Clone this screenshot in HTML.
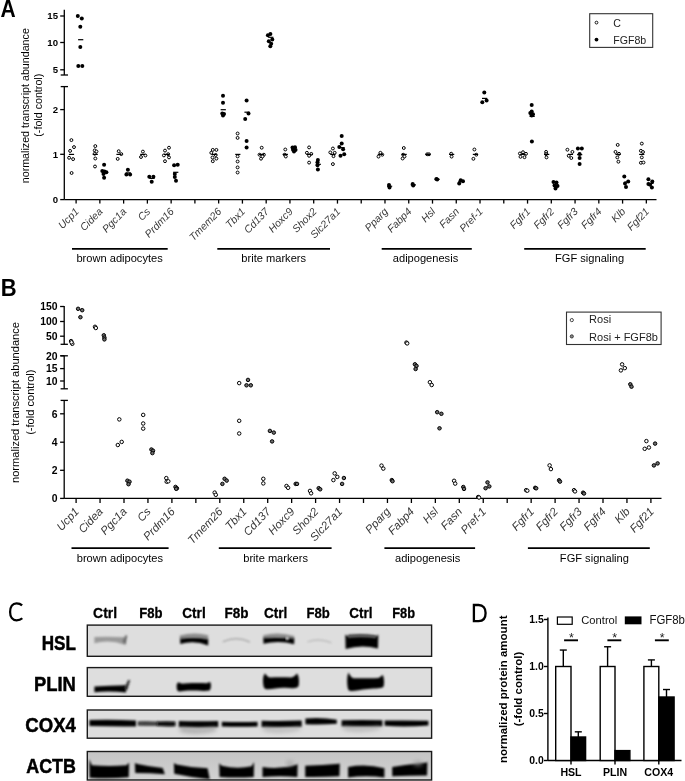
<!DOCTYPE html>
<html><head><meta charset="utf-8"><style>
html,body{margin:0;padding:0;background:#fff;width:685px;height:781px;overflow:hidden}
svg{display:block;will-change:transform;filter:blur(0.35px)}
text{font-family:"Liberation Sans", sans-serif}
</style></head><body>
<svg width="685" height="781" viewBox="0 0 685 781" font-family='"Liberation Sans", sans-serif'>
<rect width="685" height="781" fill="#fff"/>
<text x="0.40" y="16.70" font-size="23" text-anchor="start" font-weight="bold" font-style="normal" fill="#000" textLength="15.2" lengthAdjust="spacingAndGlyphs">A</text>
<text x="0.70" y="295.80" font-size="23" text-anchor="start" font-weight="bold" font-style="normal" fill="#000" textLength="15.9" lengthAdjust="spacingAndGlyphs">B</text>
<line x1="64.30" y1="9.80" x2="64.30" y2="75.00" stroke="#000" stroke-width="1.3"/>
<line x1="60.20" y1="16.00" x2="64.30" y2="16.00" stroke="#000" stroke-width="1.3"/>
<text x="58.00" y="19.46" font-size="9.6" text-anchor="end" font-weight="bold" font-style="normal" fill="#000" >15</text>
<line x1="60.20" y1="42.50" x2="64.30" y2="42.50" stroke="#000" stroke-width="1.3"/>
<text x="58.00" y="45.96" font-size="9.6" text-anchor="end" font-weight="bold" font-style="normal" fill="#000" >10</text>
<line x1="60.20" y1="69.80" x2="64.30" y2="69.80" stroke="#000" stroke-width="1.3"/>
<text x="58.00" y="73.26" font-size="9.6" text-anchor="end" font-weight="bold" font-style="normal" fill="#000" >5</text>
<line x1="60.70" y1="75.00" x2="68.00" y2="75.00" stroke="#000" stroke-width="1.3"/>
<line x1="64.30" y1="86.60" x2="64.30" y2="199.60" stroke="#000" stroke-width="1.3"/>
<line x1="60.20" y1="109.60" x2="64.30" y2="109.60" stroke="#000" stroke-width="1.3"/>
<text x="58.00" y="113.06" font-size="9.6" text-anchor="end" font-weight="bold" font-style="normal" fill="#000" >2</text>
<line x1="60.20" y1="154.30" x2="64.30" y2="154.30" stroke="#000" stroke-width="1.3"/>
<text x="58.00" y="157.76" font-size="9.6" text-anchor="end" font-weight="bold" font-style="normal" fill="#000" >1</text>
<line x1="60.20" y1="199.60" x2="64.30" y2="199.60" stroke="#000" stroke-width="1.3"/>
<text x="58.00" y="203.06" font-size="9.6" text-anchor="end" font-weight="bold" font-style="normal" fill="#000" >0</text>
<line x1="60.70" y1="86.60" x2="68.00" y2="86.60" stroke="#000" stroke-width="1.3"/>
<line x1="64.30" y1="199.60" x2="656.50" y2="199.60" stroke="#000" stroke-width="1.3"/>
<line x1="76.10" y1="199.60" x2="76.10" y2="203.60" stroke="#000" stroke-width="1.3"/>
<line x1="99.86" y1="199.60" x2="99.86" y2="203.60" stroke="#000" stroke-width="1.3"/>
<line x1="123.62" y1="199.60" x2="123.62" y2="203.60" stroke="#000" stroke-width="1.3"/>
<line x1="147.38" y1="199.60" x2="147.38" y2="203.60" stroke="#000" stroke-width="1.3"/>
<line x1="171.14" y1="199.60" x2="171.14" y2="203.60" stroke="#000" stroke-width="1.3"/>
<line x1="194.90" y1="199.60" x2="194.90" y2="203.60" stroke="#000" stroke-width="1.3"/>
<line x1="218.66" y1="199.60" x2="218.66" y2="203.60" stroke="#000" stroke-width="1.3"/>
<line x1="242.42" y1="199.60" x2="242.42" y2="203.60" stroke="#000" stroke-width="1.3"/>
<line x1="266.18" y1="199.60" x2="266.18" y2="203.60" stroke="#000" stroke-width="1.3"/>
<line x1="289.94" y1="199.60" x2="289.94" y2="203.60" stroke="#000" stroke-width="1.3"/>
<line x1="313.70" y1="199.60" x2="313.70" y2="203.60" stroke="#000" stroke-width="1.3"/>
<line x1="337.46" y1="199.60" x2="337.46" y2="203.60" stroke="#000" stroke-width="1.3"/>
<line x1="361.22" y1="199.60" x2="361.22" y2="203.60" stroke="#000" stroke-width="1.3"/>
<line x1="384.98" y1="199.60" x2="384.98" y2="203.60" stroke="#000" stroke-width="1.3"/>
<line x1="408.74" y1="199.60" x2="408.74" y2="203.60" stroke="#000" stroke-width="1.3"/>
<line x1="432.50" y1="199.60" x2="432.50" y2="203.60" stroke="#000" stroke-width="1.3"/>
<line x1="456.26" y1="199.60" x2="456.26" y2="203.60" stroke="#000" stroke-width="1.3"/>
<line x1="480.02" y1="199.60" x2="480.02" y2="203.60" stroke="#000" stroke-width="1.3"/>
<line x1="503.78" y1="199.60" x2="503.78" y2="203.60" stroke="#000" stroke-width="1.3"/>
<line x1="527.54" y1="199.60" x2="527.54" y2="203.60" stroke="#000" stroke-width="1.3"/>
<line x1="551.30" y1="199.60" x2="551.30" y2="203.60" stroke="#000" stroke-width="1.3"/>
<line x1="575.06" y1="199.60" x2="575.06" y2="203.60" stroke="#000" stroke-width="1.3"/>
<line x1="598.82" y1="199.60" x2="598.82" y2="203.60" stroke="#000" stroke-width="1.3"/>
<line x1="622.58" y1="199.60" x2="622.58" y2="203.60" stroke="#000" stroke-width="1.3"/>
<line x1="646.34" y1="199.60" x2="646.34" y2="203.60" stroke="#000" stroke-width="1.3"/>
<text x="79.60" y="212.20" font-size="10.4" text-anchor="end" font-style="italic" fill="#383838" transform="rotate(-45.5 79.60 212.20)">Ucp1</text>
<text x="103.36" y="212.20" font-size="10.4" text-anchor="end" font-style="italic" fill="#383838" transform="rotate(-45.5 103.36 212.20)">Cidea</text>
<text x="127.12" y="212.20" font-size="10.4" text-anchor="end" font-style="italic" fill="#383838" transform="rotate(-45.5 127.12 212.20)">Pgc1a</text>
<text x="150.88" y="212.20" font-size="10.4" text-anchor="end" font-style="italic" fill="#383838" transform="rotate(-45.5 150.88 212.20)">Cs</text>
<text x="174.64" y="212.20" font-size="10.4" text-anchor="end" font-style="italic" fill="#383838" transform="rotate(-45.5 174.64 212.20)">Prdm16</text>
<text x="222.16" y="212.20" font-size="10.4" text-anchor="end" font-style="italic" fill="#383838" transform="rotate(-45.5 222.16 212.20)">Tmem26</text>
<text x="245.92" y="212.20" font-size="10.4" text-anchor="end" font-style="italic" fill="#383838" transform="rotate(-45.5 245.92 212.20)">Tbx1</text>
<text x="269.68" y="212.20" font-size="10.4" text-anchor="end" font-style="italic" fill="#383838" transform="rotate(-45.5 269.68 212.20)">Cd137</text>
<text x="293.44" y="212.20" font-size="10.4" text-anchor="end" font-style="italic" fill="#383838" transform="rotate(-45.5 293.44 212.20)">Hoxc9</text>
<text x="317.20" y="212.20" font-size="10.4" text-anchor="end" font-style="italic" fill="#383838" transform="rotate(-45.5 317.20 212.20)">Shox2</text>
<text x="340.96" y="212.20" font-size="10.4" text-anchor="end" font-style="italic" fill="#383838" transform="rotate(-45.5 340.96 212.20)">Slc27a1</text>
<text x="388.48" y="212.20" font-size="10.4" text-anchor="end" font-style="italic" fill="#383838" transform="rotate(-45.5 388.48 212.20)">Pparg</text>
<text x="412.24" y="212.20" font-size="10.4" text-anchor="end" font-style="italic" fill="#383838" transform="rotate(-45.5 412.24 212.20)">Fabp4</text>
<text x="436.00" y="212.20" font-size="10.4" text-anchor="end" font-style="italic" fill="#383838" transform="rotate(-45.5 436.00 212.20)">Hsl</text>
<text x="459.76" y="212.20" font-size="10.4" text-anchor="end" font-style="italic" fill="#383838" transform="rotate(-45.5 459.76 212.20)">Fasn</text>
<text x="483.52" y="212.20" font-size="10.4" text-anchor="end" font-style="italic" fill="#383838" transform="rotate(-45.5 483.52 212.20)">Pref-1</text>
<text x="531.04" y="212.20" font-size="10.4" text-anchor="end" font-style="italic" fill="#383838" transform="rotate(-45.5 531.04 212.20)">Fgfr1</text>
<text x="554.80" y="212.20" font-size="10.4" text-anchor="end" font-style="italic" fill="#383838" transform="rotate(-45.5 554.80 212.20)">Fgfr2</text>
<text x="578.56" y="212.20" font-size="10.4" text-anchor="end" font-style="italic" fill="#383838" transform="rotate(-45.5 578.56 212.20)">Fgfr3</text>
<text x="602.32" y="212.20" font-size="10.4" text-anchor="end" font-style="italic" fill="#383838" transform="rotate(-45.5 602.32 212.20)">Fgfr4</text>
<text x="626.08" y="212.20" font-size="10.4" text-anchor="end" font-style="italic" fill="#383838" transform="rotate(-45.5 626.08 212.20)">Klb</text>
<text x="649.84" y="212.20" font-size="10.4" text-anchor="end" font-style="italic" fill="#383838" transform="rotate(-45.5 649.84 212.20)">Fgf21</text>
<text x="0" y="0" font-size="10.7" text-anchor="middle" transform="translate(29.4 105.7) rotate(-90)">normalized transcript abundance</text>
<text x="0" y="0" font-size="10.7" text-anchor="middle" transform="translate(42.4 105.2) rotate(-90)">(-fold control)</text>
<line x1="72.00" y1="248.90" x2="167.70" y2="248.90" stroke="#000" stroke-width="1.6"/>
<text x="119.60" y="262.00" font-size="11.1" text-anchor="middle" font-weight="normal" font-style="normal" fill="#000" >brown adipocytes</text>
<line x1="217.30" y1="248.90" x2="330.00" y2="248.90" stroke="#000" stroke-width="1.6"/>
<text x="273.70" y="262.00" font-size="11.1" text-anchor="middle" font-weight="normal" font-style="normal" fill="#000" >brite markers</text>
<line x1="381.70" y1="248.90" x2="471.80" y2="248.90" stroke="#000" stroke-width="1.6"/>
<text x="425.50" y="262.00" font-size="11.1" text-anchor="middle" font-weight="normal" font-style="normal" fill="#000" >adipogenesis</text>
<line x1="524.20" y1="248.90" x2="645.70" y2="248.90" stroke="#000" stroke-width="1.6"/>
<text x="589.60" y="262.00" font-size="11.1" text-anchor="middle" font-weight="normal" font-style="normal" fill="#000" >FGF signaling</text>
<rect x="589.7" y="13.7" width="63" height="33.7" fill="none" stroke="#333" stroke-width="1.1"/>
<circle cx="596.5" cy="22.6" r="1.4" fill="#fff" stroke="#000" stroke-width="0.9"/>
<circle cx="596.5" cy="39.6" r="1.9" fill="#000"/>
<text x="613.30" y="26.60" font-size="10.6" text-anchor="start" font-weight="normal" font-style="normal" fill="#222" >C</text>
<text x="613.30" y="43.80" font-size="10.6" text-anchor="start" font-weight="normal" font-style="normal" fill="#222" >FGF8b</text>
<circle cx="71.4" cy="140.1" r="1.45" fill="#fff" stroke="#000" stroke-width="1.0"/>
<circle cx="74.0" cy="147.1" r="1.45" fill="#fff" stroke="#000" stroke-width="1.0"/>
<circle cx="70.1" cy="150.9" r="1.45" fill="#fff" stroke="#000" stroke-width="1.0"/>
<circle cx="69.1" cy="157.8" r="1.45" fill="#fff" stroke="#000" stroke-width="1.0"/>
<circle cx="73.1" cy="159.1" r="1.45" fill="#fff" stroke="#000" stroke-width="1.0"/>
<circle cx="71.6" cy="173.0" r="1.45" fill="#fff" stroke="#000" stroke-width="1.0"/>
<circle cx="95.3" cy="146.1" r="1.45" fill="#fff" stroke="#000" stroke-width="1.0"/>
<circle cx="94.7" cy="150.4" r="1.45" fill="#fff" stroke="#000" stroke-width="1.0"/>
<circle cx="96.5" cy="151.5" r="1.45" fill="#fff" stroke="#000" stroke-width="1.0"/>
<circle cx="94.7" cy="153.8" r="1.45" fill="#fff" stroke="#000" stroke-width="1.0"/>
<circle cx="95.3" cy="158.5" r="1.45" fill="#fff" stroke="#000" stroke-width="1.0"/>
<circle cx="95.0" cy="166.5" r="1.45" fill="#fff" stroke="#000" stroke-width="1.0"/>
<circle cx="118.7" cy="151.2" r="1.45" fill="#fff" stroke="#000" stroke-width="1.0"/>
<circle cx="121.3" cy="154.1" r="1.45" fill="#fff" stroke="#000" stroke-width="1.0"/>
<circle cx="117.7" cy="158.9" r="1.45" fill="#fff" stroke="#000" stroke-width="1.0"/>
<circle cx="142.9" cy="151.6" r="1.45" fill="#fff" stroke="#000" stroke-width="1.0"/>
<circle cx="141.0" cy="157.0" r="1.45" fill="#fff" stroke="#000" stroke-width="1.0"/>
<circle cx="145.4" cy="155.5" r="1.45" fill="#fff" stroke="#000" stroke-width="1.0"/>
<circle cx="169.0" cy="147.7" r="1.45" fill="#fff" stroke="#000" stroke-width="1.0"/>
<circle cx="165.0" cy="150.6" r="1.45" fill="#fff" stroke="#000" stroke-width="1.0"/>
<circle cx="168.2" cy="154.2" r="1.45" fill="#fff" stroke="#000" stroke-width="1.0"/>
<circle cx="163.9" cy="155.4" r="1.45" fill="#fff" stroke="#000" stroke-width="1.0"/>
<circle cx="169.0" cy="157.4" r="1.45" fill="#fff" stroke="#000" stroke-width="1.0"/>
<circle cx="165.0" cy="161.2" r="1.45" fill="#fff" stroke="#000" stroke-width="1.0"/>
<circle cx="212.8" cy="149.9" r="1.45" fill="#fff" stroke="#000" stroke-width="1.0"/>
<circle cx="216.4" cy="149.9" r="1.45" fill="#fff" stroke="#000" stroke-width="1.0"/>
<circle cx="211.3" cy="152.8" r="1.45" fill="#fff" stroke="#000" stroke-width="1.0"/>
<circle cx="215.7" cy="155.0" r="1.45" fill="#fff" stroke="#000" stroke-width="1.0"/>
<circle cx="212.5" cy="157.5" r="1.45" fill="#fff" stroke="#000" stroke-width="1.0"/>
<circle cx="216.4" cy="158.6" r="1.45" fill="#fff" stroke="#000" stroke-width="1.0"/>
<circle cx="212.8" cy="161.2" r="1.45" fill="#fff" stroke="#000" stroke-width="1.0"/>
<circle cx="237.6" cy="133.5" r="1.45" fill="#fff" stroke="#000" stroke-width="1.0"/>
<circle cx="237.6" cy="137.9" r="1.45" fill="#fff" stroke="#000" stroke-width="1.0"/>
<circle cx="237.6" cy="156.4" r="1.45" fill="#fff" stroke="#000" stroke-width="1.0"/>
<circle cx="237.6" cy="161.5" r="1.45" fill="#fff" stroke="#000" stroke-width="1.0"/>
<circle cx="237.6" cy="167.4" r="1.45" fill="#fff" stroke="#000" stroke-width="1.0"/>
<circle cx="237.6" cy="172.5" r="1.45" fill="#fff" stroke="#000" stroke-width="1.0"/>
<circle cx="261.7" cy="147.7" r="1.45" fill="#fff" stroke="#000" stroke-width="1.0"/>
<circle cx="259.5" cy="154.7" r="1.45" fill="#fff" stroke="#000" stroke-width="1.0"/>
<circle cx="263.9" cy="154.7" r="1.45" fill="#fff" stroke="#000" stroke-width="1.0"/>
<circle cx="261.0" cy="158.7" r="1.45" fill="#fff" stroke="#000" stroke-width="1.0"/>
<circle cx="262.5" cy="156.5" r="1.45" fill="#fff" stroke="#000" stroke-width="1.0"/>
<circle cx="285.3" cy="149.5" r="1.45" fill="#fff" stroke="#000" stroke-width="1.0"/>
<circle cx="284.7" cy="154.7" r="1.45" fill="#fff" stroke="#000" stroke-width="1.0"/>
<circle cx="285.8" cy="156.5" r="1.45" fill="#fff" stroke="#000" stroke-width="1.0"/>
<circle cx="309.1" cy="147.4" r="1.45" fill="#fff" stroke="#000" stroke-width="1.0"/>
<circle cx="306.9" cy="152.8" r="1.45" fill="#fff" stroke="#000" stroke-width="1.0"/>
<circle cx="311.3" cy="153.9" r="1.45" fill="#fff" stroke="#000" stroke-width="1.0"/>
<circle cx="309.1" cy="155.8" r="1.45" fill="#fff" stroke="#000" stroke-width="1.0"/>
<circle cx="309.1" cy="162.6" r="1.45" fill="#fff" stroke="#000" stroke-width="1.0"/>
<circle cx="332.9" cy="148.5" r="1.45" fill="#fff" stroke="#000" stroke-width="1.0"/>
<circle cx="330.3" cy="152.4" r="1.45" fill="#fff" stroke="#000" stroke-width="1.0"/>
<circle cx="334.7" cy="152.8" r="1.45" fill="#fff" stroke="#000" stroke-width="1.0"/>
<circle cx="333.5" cy="156.2" r="1.45" fill="#fff" stroke="#000" stroke-width="1.0"/>
<circle cx="332.9" cy="164.1" r="1.45" fill="#fff" stroke="#000" stroke-width="1.0"/>
<circle cx="380.4" cy="152.8" r="1.45" fill="#fff" stroke="#000" stroke-width="1.0"/>
<circle cx="378.5" cy="156.6" r="1.45" fill="#fff" stroke="#000" stroke-width="1.0"/>
<circle cx="382.3" cy="154.7" r="1.45" fill="#fff" stroke="#000" stroke-width="1.0"/>
<circle cx="403.8" cy="148.0" r="1.45" fill="#fff" stroke="#000" stroke-width="1.0"/>
<circle cx="403.2" cy="154.7" r="1.45" fill="#fff" stroke="#000" stroke-width="1.0"/>
<circle cx="404.5" cy="156.5" r="1.45" fill="#fff" stroke="#000" stroke-width="1.0"/>
<circle cx="402.6" cy="158.5" r="1.45" fill="#fff" stroke="#000" stroke-width="1.0"/>
<circle cx="427.2" cy="154.3" r="1.45" fill="#fff" stroke="#000" stroke-width="1.0"/>
<circle cx="429.0" cy="154.3" r="1.45" fill="#fff" stroke="#000" stroke-width="1.0"/>
<circle cx="451.2" cy="153.7" r="1.45" fill="#fff" stroke="#000" stroke-width="1.0"/>
<circle cx="451.6" cy="156.6" r="1.45" fill="#fff" stroke="#000" stroke-width="1.0"/>
<circle cx="474.4" cy="149.5" r="1.45" fill="#fff" stroke="#000" stroke-width="1.0"/>
<circle cx="476.3" cy="154.7" r="1.45" fill="#fff" stroke="#000" stroke-width="1.0"/>
<circle cx="473.4" cy="158.8" r="1.45" fill="#fff" stroke="#000" stroke-width="1.0"/>
<circle cx="519.9" cy="153.5" r="1.45" fill="#fff" stroke="#000" stroke-width="1.0"/>
<circle cx="523.0" cy="152.2" r="1.45" fill="#fff" stroke="#000" stroke-width="1.0"/>
<circle cx="526.0" cy="153.8" r="1.45" fill="#fff" stroke="#000" stroke-width="1.0"/>
<circle cx="520.5" cy="156.8" r="1.45" fill="#fff" stroke="#000" stroke-width="1.0"/>
<circle cx="524.5" cy="157.2" r="1.45" fill="#fff" stroke="#000" stroke-width="1.0"/>
<circle cx="546.1" cy="151.9" r="1.45" fill="#fff" stroke="#000" stroke-width="1.0"/>
<circle cx="546.1" cy="154.1" r="1.45" fill="#fff" stroke="#000" stroke-width="1.0"/>
<circle cx="546.5" cy="157.4" r="1.45" fill="#fff" stroke="#000" stroke-width="1.0"/>
<circle cx="567.4" cy="149.7" r="1.45" fill="#fff" stroke="#000" stroke-width="1.0"/>
<circle cx="572.4" cy="151.9" r="1.45" fill="#fff" stroke="#000" stroke-width="1.0"/>
<circle cx="568.7" cy="155.8" r="1.45" fill="#fff" stroke="#000" stroke-width="1.0"/>
<circle cx="571.3" cy="158.0" r="1.45" fill="#fff" stroke="#000" stroke-width="1.0"/>
<circle cx="617.7" cy="144.9" r="1.45" fill="#fff" stroke="#000" stroke-width="1.0"/>
<circle cx="615.5" cy="151.9" r="1.45" fill="#fff" stroke="#000" stroke-width="1.0"/>
<circle cx="619.0" cy="153.8" r="1.45" fill="#fff" stroke="#000" stroke-width="1.0"/>
<circle cx="617.3" cy="157.4" r="1.45" fill="#fff" stroke="#000" stroke-width="1.0"/>
<circle cx="618.4" cy="161.7" r="1.45" fill="#fff" stroke="#000" stroke-width="1.0"/>
<circle cx="641.8" cy="143.6" r="1.45" fill="#fff" stroke="#000" stroke-width="1.0"/>
<circle cx="640.9" cy="150.8" r="1.45" fill="#fff" stroke="#000" stroke-width="1.0"/>
<circle cx="643.0" cy="152.0" r="1.45" fill="#fff" stroke="#000" stroke-width="1.0"/>
<circle cx="641.8" cy="157.4" r="1.45" fill="#fff" stroke="#000" stroke-width="1.0"/>
<circle cx="640.9" cy="162.8" r="1.45" fill="#fff" stroke="#000" stroke-width="1.0"/>
<circle cx="643.5" cy="162.5" r="1.45" fill="#fff" stroke="#000" stroke-width="1.0"/>
<circle cx="77.8" cy="16.1" r="2.0" fill="#000"/>
<circle cx="81.8" cy="18.6" r="2.0" fill="#000"/>
<circle cx="80.3" cy="26.8" r="2.0" fill="#000"/>
<circle cx="80.3" cy="47.1" r="2.0" fill="#000"/>
<circle cx="78.3" cy="66.0" r="2.0" fill="#000"/>
<circle cx="82.3" cy="66.0" r="2.0" fill="#000"/>
<circle cx="104.1" cy="164.7" r="2.0" fill="#000"/>
<circle cx="102.3" cy="170.9" r="2.0" fill="#000"/>
<circle cx="104.5" cy="171.6" r="2.0" fill="#000"/>
<circle cx="106.4" cy="172.3" r="2.0" fill="#000"/>
<circle cx="103.5" cy="174.0" r="2.0" fill="#000"/>
<circle cx="104.1" cy="177.7" r="2.0" fill="#000"/>
<circle cx="127.9" cy="169.7" r="2.0" fill="#000"/>
<circle cx="126.4" cy="174.5" r="2.0" fill="#000"/>
<circle cx="130.1" cy="174.5" r="2.0" fill="#000"/>
<circle cx="149.3" cy="176.7" r="2.0" fill="#000"/>
<circle cx="153.4" cy="176.7" r="2.0" fill="#000"/>
<circle cx="151.7" cy="181.8" r="2.0" fill="#000"/>
<circle cx="174.1" cy="165.2" r="2.0" fill="#000"/>
<circle cx="177.7" cy="164.7" r="2.0" fill="#000"/>
<circle cx="174.8" cy="173.9" r="2.0" fill="#000"/>
<circle cx="174.8" cy="176.9" r="2.0" fill="#000"/>
<circle cx="176.0" cy="180.8" r="2.0" fill="#000"/>
<circle cx="223.0" cy="95.8" r="2.0" fill="#000"/>
<circle cx="223.0" cy="102.8" r="2.0" fill="#000"/>
<circle cx="222.3" cy="113.4" r="2.0" fill="#000"/>
<circle cx="223.0" cy="115.5" r="2.0" fill="#000"/>
<circle cx="224.0" cy="114.0" r="2.0" fill="#000"/>
<circle cx="246.6" cy="100.5" r="2.0" fill="#000"/>
<circle cx="248.5" cy="113.4" r="2.0" fill="#000"/>
<circle cx="245.2" cy="118.9" r="2.0" fill="#000"/>
<circle cx="246.6" cy="141.1" r="2.0" fill="#000"/>
<circle cx="246.6" cy="147.4" r="2.0" fill="#000"/>
<circle cx="270.4" cy="33.9" r="2.0" fill="#000"/>
<circle cx="267.9" cy="35.3" r="2.0" fill="#000"/>
<circle cx="272.3" cy="39.6" r="2.0" fill="#000"/>
<circle cx="268.8" cy="41.2" r="2.0" fill="#000"/>
<circle cx="271.2" cy="43.7" r="2.0" fill="#000"/>
<circle cx="270.3" cy="46.3" r="2.0" fill="#000"/>
<circle cx="292.5" cy="147.5" r="2.0" fill="#000"/>
<circle cx="295.0" cy="147.2" r="2.0" fill="#000"/>
<circle cx="293.0" cy="149.8" r="2.0" fill="#000"/>
<circle cx="295.5" cy="150.0" r="2.0" fill="#000"/>
<circle cx="294.0" cy="151.4" r="2.0" fill="#000"/>
<circle cx="317.9" cy="160.1" r="2.0" fill="#000"/>
<circle cx="317.5" cy="162.3" r="2.0" fill="#000"/>
<circle cx="317.5" cy="165.3" r="2.0" fill="#000"/>
<circle cx="317.9" cy="169.6" r="2.0" fill="#000"/>
<circle cx="341.7" cy="136.1" r="2.0" fill="#000"/>
<circle cx="341.7" cy="143.4" r="2.0" fill="#000"/>
<circle cx="339.3" cy="147.0" r="2.0" fill="#000"/>
<circle cx="343.1" cy="149.2" r="2.0" fill="#000"/>
<circle cx="344.2" cy="154.3" r="2.0" fill="#000"/>
<circle cx="340.5" cy="155.8" r="2.0" fill="#000"/>
<circle cx="389.0" cy="185.0" r="2.0" fill="#000"/>
<circle cx="389.5" cy="187.5" r="2.0" fill="#000"/>
<circle cx="412.7" cy="184.1" r="2.0" fill="#000"/>
<circle cx="413.2" cy="185.6" r="2.0" fill="#000"/>
<circle cx="436.4" cy="179.0" r="2.0" fill="#000"/>
<circle cx="437.2" cy="179.6" r="2.0" fill="#000"/>
<circle cx="460.7" cy="180.3" r="2.0" fill="#000"/>
<circle cx="459.2" cy="183.5" r="2.0" fill="#000"/>
<circle cx="463.0" cy="181.2" r="2.0" fill="#000"/>
<circle cx="484.3" cy="92.6" r="2.0" fill="#000"/>
<circle cx="486.6" cy="100.4" r="2.0" fill="#000"/>
<circle cx="482.3" cy="102.2" r="2.0" fill="#000"/>
<circle cx="531.7" cy="105.1" r="2.0" fill="#000"/>
<circle cx="531.7" cy="111.5" r="2.0" fill="#000"/>
<circle cx="531.5" cy="113.9" r="2.0" fill="#000"/>
<circle cx="531.7" cy="115.6" r="2.0" fill="#000"/>
<circle cx="530.3" cy="113.0" r="2.0" fill="#000"/>
<circle cx="533.0" cy="114.2" r="2.0" fill="#000"/>
<circle cx="531.9" cy="141.4" r="2.0" fill="#000"/>
<circle cx="553.5" cy="182.0" r="2.0" fill="#000"/>
<circle cx="556.5" cy="182.5" r="2.0" fill="#000"/>
<circle cx="554.5" cy="185.5" r="2.0" fill="#000"/>
<circle cx="557.5" cy="186.0" r="2.0" fill="#000"/>
<circle cx="555.5" cy="188.6" r="2.0" fill="#000"/>
<circle cx="577.9" cy="148.6" r="2.0" fill="#000"/>
<circle cx="581.8" cy="148.6" r="2.0" fill="#000"/>
<circle cx="579.6" cy="154.1" r="2.0" fill="#000"/>
<circle cx="579.6" cy="158.0" r="2.0" fill="#000"/>
<circle cx="579.6" cy="163.9" r="2.0" fill="#000"/>
<circle cx="624.3" cy="176.4" r="2.0" fill="#000"/>
<circle cx="628.2" cy="181.5" r="2.0" fill="#000"/>
<circle cx="625.0" cy="183.6" r="2.0" fill="#000"/>
<circle cx="626.0" cy="186.9" r="2.0" fill="#000"/>
<circle cx="648.4" cy="179.3" r="2.0" fill="#000"/>
<circle cx="652.3" cy="181.5" r="2.0" fill="#000"/>
<circle cx="650.1" cy="184.7" r="2.0" fill="#000"/>
<circle cx="651.9" cy="187.4" r="2.0" fill="#000"/>
<circle cx="648.4" cy="184.0" r="2.0" fill="#000"/>
<line x1="68.90" y1="154.40" x2="74.10" y2="154.40" stroke="#000" stroke-width="1.2"/>
<line x1="78.10" y1="39.70" x2="83.30" y2="39.70" stroke="#000" stroke-width="1.2"/>
<line x1="92.66" y1="154.40" x2="97.86" y2="154.40" stroke="#000" stroke-width="1.2"/>
<line x1="101.86" y1="171.87" x2="107.06" y2="171.87" stroke="#000" stroke-width="1.2"/>
<line x1="116.42" y1="154.40" x2="121.62" y2="154.40" stroke="#000" stroke-width="1.2"/>
<line x1="125.62" y1="172.90" x2="130.82" y2="172.90" stroke="#000" stroke-width="1.2"/>
<line x1="140.18" y1="154.40" x2="145.38" y2="154.40" stroke="#000" stroke-width="1.2"/>
<line x1="149.38" y1="178.40" x2="154.58" y2="178.40" stroke="#000" stroke-width="1.2"/>
<line x1="163.94" y1="154.40" x2="169.14" y2="154.40" stroke="#000" stroke-width="1.2"/>
<line x1="173.14" y1="172.30" x2="178.34" y2="172.30" stroke="#000" stroke-width="1.2"/>
<line x1="211.46" y1="154.40" x2="216.66" y2="154.40" stroke="#000" stroke-width="1.2"/>
<line x1="220.66" y1="109.70" x2="225.86" y2="109.70" stroke="#000" stroke-width="1.2"/>
<line x1="235.22" y1="154.40" x2="240.42" y2="154.40" stroke="#000" stroke-width="1.2"/>
<line x1="244.42" y1="112.20" x2="249.62" y2="112.20" stroke="#000" stroke-width="1.2"/>
<line x1="258.98" y1="154.40" x2="264.18" y2="154.40" stroke="#000" stroke-width="1.2"/>
<line x1="268.18" y1="37.30" x2="273.38" y2="37.30" stroke="#000" stroke-width="1.2"/>
<line x1="282.74" y1="154.40" x2="287.94" y2="154.40" stroke="#000" stroke-width="1.2"/>
<line x1="291.94" y1="149.18" x2="297.14" y2="149.18" stroke="#000" stroke-width="1.2"/>
<line x1="306.50" y1="154.40" x2="311.70" y2="154.40" stroke="#000" stroke-width="1.2"/>
<line x1="315.70" y1="164.32" x2="320.90" y2="164.32" stroke="#000" stroke-width="1.2"/>
<line x1="330.26" y1="154.40" x2="335.46" y2="154.40" stroke="#000" stroke-width="1.2"/>
<line x1="339.46" y1="147.63" x2="344.66" y2="147.63" stroke="#000" stroke-width="1.2"/>
<line x1="377.78" y1="154.40" x2="382.98" y2="154.40" stroke="#000" stroke-width="1.2"/>
<line x1="386.98" y1="186.25" x2="392.18" y2="186.25" stroke="#000" stroke-width="1.2"/>
<line x1="401.54" y1="154.40" x2="406.74" y2="154.40" stroke="#000" stroke-width="1.2"/>
<line x1="410.74" y1="184.85" x2="415.94" y2="184.85" stroke="#000" stroke-width="1.2"/>
<line x1="425.30" y1="154.40" x2="430.50" y2="154.40" stroke="#000" stroke-width="1.2"/>
<line x1="434.50" y1="179.30" x2="439.70" y2="179.30" stroke="#000" stroke-width="1.2"/>
<line x1="449.06" y1="154.40" x2="454.26" y2="154.40" stroke="#000" stroke-width="1.2"/>
<line x1="458.26" y1="181.67" x2="463.46" y2="181.67" stroke="#000" stroke-width="1.2"/>
<line x1="472.82" y1="154.40" x2="478.02" y2="154.40" stroke="#000" stroke-width="1.2"/>
<line x1="482.02" y1="98.40" x2="487.22" y2="98.40" stroke="#000" stroke-width="1.2"/>
<line x1="520.34" y1="154.40" x2="525.54" y2="154.40" stroke="#000" stroke-width="1.2"/>
<line x1="529.54" y1="116.39" x2="534.74" y2="116.39" stroke="#000" stroke-width="1.2"/>
<line x1="544.10" y1="154.40" x2="549.30" y2="154.40" stroke="#000" stroke-width="1.2"/>
<line x1="553.30" y1="184.92" x2="558.50" y2="184.92" stroke="#000" stroke-width="1.2"/>
<line x1="567.86" y1="154.40" x2="573.06" y2="154.40" stroke="#000" stroke-width="1.2"/>
<line x1="577.06" y1="154.64" x2="582.26" y2="154.64" stroke="#000" stroke-width="1.2"/>
<line x1="615.38" y1="154.40" x2="620.58" y2="154.40" stroke="#000" stroke-width="1.2"/>
<line x1="624.58" y1="182.10" x2="629.78" y2="182.10" stroke="#000" stroke-width="1.2"/>
<line x1="639.14" y1="154.40" x2="644.34" y2="154.40" stroke="#000" stroke-width="1.2"/>
<line x1="648.34" y1="183.38" x2="653.54" y2="183.38" stroke="#000" stroke-width="1.2"/>
<line x1="64.20" y1="306.00" x2="64.20" y2="344.30" stroke="#000" stroke-width="1.3"/>
<line x1="60.10" y1="306.50" x2="64.20" y2="306.50" stroke="#000" stroke-width="1.3"/>
<text x="57.60" y="310.24" font-size="10.4" text-anchor="end" font-weight="bold" font-style="normal" fill="#000" >150</text>
<line x1="60.10" y1="321.50" x2="64.20" y2="321.50" stroke="#000" stroke-width="1.3"/>
<text x="57.60" y="325.24" font-size="10.4" text-anchor="end" font-weight="bold" font-style="normal" fill="#000" >100</text>
<line x1="60.10" y1="336.20" x2="64.20" y2="336.20" stroke="#000" stroke-width="1.3"/>
<text x="57.60" y="339.94" font-size="10.4" text-anchor="end" font-weight="bold" font-style="normal" fill="#000" >50</text>
<line x1="60.60" y1="344.30" x2="67.90" y2="344.30" stroke="#000" stroke-width="1.3"/>
<line x1="64.20" y1="355.80" x2="64.20" y2="388.80" stroke="#000" stroke-width="1.3"/>
<line x1="60.10" y1="355.80" x2="64.20" y2="355.80" stroke="#000" stroke-width="1.3"/>
<text x="57.60" y="359.54" font-size="10.4" text-anchor="end" font-weight="bold" font-style="normal" fill="#000" >20</text>
<line x1="60.10" y1="368.60" x2="64.20" y2="368.60" stroke="#000" stroke-width="1.3"/>
<text x="57.60" y="372.34" font-size="10.4" text-anchor="end" font-weight="bold" font-style="normal" fill="#000" >15</text>
<line x1="60.10" y1="381.00" x2="64.20" y2="381.00" stroke="#000" stroke-width="1.3"/>
<text x="57.60" y="384.74" font-size="10.4" text-anchor="end" font-weight="bold" font-style="normal" fill="#000" >10</text>
<line x1="60.60" y1="355.80" x2="67.90" y2="355.80" stroke="#000" stroke-width="1.3"/>
<line x1="60.60" y1="388.80" x2="67.90" y2="388.80" stroke="#000" stroke-width="1.3"/>
<line x1="64.20" y1="400.40" x2="64.20" y2="498.40" stroke="#000" stroke-width="1.3"/>
<line x1="60.10" y1="413.80" x2="64.20" y2="413.80" stroke="#000" stroke-width="1.3"/>
<text x="57.60" y="417.54" font-size="10.4" text-anchor="end" font-weight="bold" font-style="normal" fill="#000" >6</text>
<line x1="60.10" y1="442.20" x2="64.20" y2="442.20" stroke="#000" stroke-width="1.3"/>
<text x="57.60" y="445.94" font-size="10.4" text-anchor="end" font-weight="bold" font-style="normal" fill="#000" >4</text>
<line x1="60.10" y1="470.30" x2="64.20" y2="470.30" stroke="#000" stroke-width="1.3"/>
<text x="57.60" y="474.04" font-size="10.4" text-anchor="end" font-weight="bold" font-style="normal" fill="#000" >2</text>
<line x1="60.10" y1="498.40" x2="64.20" y2="498.40" stroke="#000" stroke-width="1.3"/>
<text x="57.60" y="502.14" font-size="10.4" text-anchor="end" font-weight="bold" font-style="normal" fill="#000" >0</text>
<line x1="60.60" y1="400.40" x2="67.90" y2="400.40" stroke="#000" stroke-width="1.3"/>
<line x1="64.20" y1="498.40" x2="661.50" y2="498.40" stroke="#000" stroke-width="1.3"/>
<line x1="76.10" y1="498.40" x2="76.10" y2="503.00" stroke="#000" stroke-width="1.3"/>
<line x1="100.05" y1="498.40" x2="100.05" y2="503.00" stroke="#000" stroke-width="1.3"/>
<line x1="124.00" y1="498.40" x2="124.00" y2="503.00" stroke="#000" stroke-width="1.3"/>
<line x1="147.95" y1="498.40" x2="147.95" y2="503.00" stroke="#000" stroke-width="1.3"/>
<line x1="171.90" y1="498.40" x2="171.90" y2="503.00" stroke="#000" stroke-width="1.3"/>
<line x1="195.85" y1="498.40" x2="195.85" y2="503.00" stroke="#000" stroke-width="1.3"/>
<line x1="219.80" y1="498.40" x2="219.80" y2="503.00" stroke="#000" stroke-width="1.3"/>
<line x1="243.75" y1="498.40" x2="243.75" y2="503.00" stroke="#000" stroke-width="1.3"/>
<line x1="267.70" y1="498.40" x2="267.70" y2="503.00" stroke="#000" stroke-width="1.3"/>
<line x1="291.65" y1="498.40" x2="291.65" y2="503.00" stroke="#000" stroke-width="1.3"/>
<line x1="315.60" y1="498.40" x2="315.60" y2="503.00" stroke="#000" stroke-width="1.3"/>
<line x1="339.55" y1="498.40" x2="339.55" y2="503.00" stroke="#000" stroke-width="1.3"/>
<line x1="363.50" y1="498.40" x2="363.50" y2="503.00" stroke="#000" stroke-width="1.3"/>
<line x1="387.45" y1="498.40" x2="387.45" y2="503.00" stroke="#000" stroke-width="1.3"/>
<line x1="411.40" y1="498.40" x2="411.40" y2="503.00" stroke="#000" stroke-width="1.3"/>
<line x1="435.35" y1="498.40" x2="435.35" y2="503.00" stroke="#000" stroke-width="1.3"/>
<line x1="459.30" y1="498.40" x2="459.30" y2="503.00" stroke="#000" stroke-width="1.3"/>
<line x1="483.25" y1="498.40" x2="483.25" y2="503.00" stroke="#000" stroke-width="1.3"/>
<line x1="507.20" y1="498.40" x2="507.20" y2="503.00" stroke="#000" stroke-width="1.3"/>
<line x1="531.15" y1="498.40" x2="531.15" y2="503.00" stroke="#000" stroke-width="1.3"/>
<line x1="555.10" y1="498.40" x2="555.10" y2="503.00" stroke="#000" stroke-width="1.3"/>
<line x1="579.05" y1="498.40" x2="579.05" y2="503.00" stroke="#000" stroke-width="1.3"/>
<line x1="603.00" y1="498.40" x2="603.00" y2="503.00" stroke="#000" stroke-width="1.3"/>
<line x1="626.95" y1="498.40" x2="626.95" y2="503.00" stroke="#000" stroke-width="1.3"/>
<line x1="650.90" y1="498.40" x2="650.90" y2="503.00" stroke="#000" stroke-width="1.3"/>
<text x="79.70" y="512.10" font-size="11.4" text-anchor="end" font-style="italic" fill="#383838" transform="rotate(-46.5 79.70 512.10)">Ucp1</text>
<text x="103.65" y="512.10" font-size="11.4" text-anchor="end" font-style="italic" fill="#383838" transform="rotate(-46.5 103.65 512.10)">Cidea</text>
<text x="127.60" y="512.10" font-size="11.4" text-anchor="end" font-style="italic" fill="#383838" transform="rotate(-46.5 127.60 512.10)">Pgc1a</text>
<text x="151.55" y="512.10" font-size="11.4" text-anchor="end" font-style="italic" fill="#383838" transform="rotate(-46.5 151.55 512.10)">Cs</text>
<text x="175.50" y="512.10" font-size="11.4" text-anchor="end" font-style="italic" fill="#383838" transform="rotate(-46.5 175.50 512.10)">Prdm16</text>
<text x="223.40" y="512.10" font-size="11.4" text-anchor="end" font-style="italic" fill="#383838" transform="rotate(-46.5 223.40 512.10)">Tmem26</text>
<text x="247.35" y="512.10" font-size="11.4" text-anchor="end" font-style="italic" fill="#383838" transform="rotate(-46.5 247.35 512.10)">Tbx1</text>
<text x="271.30" y="512.10" font-size="11.4" text-anchor="end" font-style="italic" fill="#383838" transform="rotate(-46.5 271.30 512.10)">Cd137</text>
<text x="295.25" y="512.10" font-size="11.4" text-anchor="end" font-style="italic" fill="#383838" transform="rotate(-46.5 295.25 512.10)">Hoxc9</text>
<text x="319.20" y="512.10" font-size="11.4" text-anchor="end" font-style="italic" fill="#383838" transform="rotate(-46.5 319.20 512.10)">Shox2</text>
<text x="343.15" y="512.10" font-size="11.4" text-anchor="end" font-style="italic" fill="#383838" transform="rotate(-46.5 343.15 512.10)">Slc27a1</text>
<text x="391.05" y="512.10" font-size="11.4" text-anchor="end" font-style="italic" fill="#383838" transform="rotate(-46.5 391.05 512.10)">Pparg</text>
<text x="415.00" y="512.10" font-size="11.4" text-anchor="end" font-style="italic" fill="#383838" transform="rotate(-46.5 415.00 512.10)">Fabp4</text>
<text x="438.95" y="512.10" font-size="11.4" text-anchor="end" font-style="italic" fill="#383838" transform="rotate(-46.5 438.95 512.10)">Hsl</text>
<text x="462.90" y="512.10" font-size="11.4" text-anchor="end" font-style="italic" fill="#383838" transform="rotate(-46.5 462.90 512.10)">Fasn</text>
<text x="486.85" y="512.10" font-size="11.4" text-anchor="end" font-style="italic" fill="#383838" transform="rotate(-46.5 486.85 512.10)">Pref-1</text>
<text x="534.75" y="512.10" font-size="11.4" text-anchor="end" font-style="italic" fill="#383838" transform="rotate(-46.5 534.75 512.10)">Fgfr1</text>
<text x="558.70" y="512.10" font-size="11.4" text-anchor="end" font-style="italic" fill="#383838" transform="rotate(-46.5 558.70 512.10)">Fgfr2</text>
<text x="582.65" y="512.10" font-size="11.4" text-anchor="end" font-style="italic" fill="#383838" transform="rotate(-46.5 582.65 512.10)">Fgfr3</text>
<text x="606.60" y="512.10" font-size="11.4" text-anchor="end" font-style="italic" fill="#383838" transform="rotate(-46.5 606.60 512.10)">Fgfr4</text>
<text x="630.55" y="512.10" font-size="11.4" text-anchor="end" font-style="italic" fill="#383838" transform="rotate(-46.5 630.55 512.10)">Klb</text>
<text x="654.50" y="512.10" font-size="11.4" text-anchor="end" font-style="italic" fill="#383838" transform="rotate(-46.5 654.50 512.10)">Fgf21</text>
<text x="0" y="0" font-size="11.1" text-anchor="middle" transform="translate(19.4 402.5) rotate(-90)">normalized transcript abundance</text>
<text x="0" y="0" font-size="11.1" text-anchor="middle" transform="translate(33.8 402.2) rotate(-90)">(-fold control)</text>
<line x1="71.50" y1="548.10" x2="168.60" y2="548.10" stroke="#000" stroke-width="1.6"/>
<text x="119.90" y="561.60" font-size="11.1" text-anchor="middle" font-weight="normal" font-style="normal" fill="#000" >brown adipocytes</text>
<line x1="218.80" y1="548.10" x2="331.60" y2="548.10" stroke="#000" stroke-width="1.6"/>
<text x="275.60" y="561.60" font-size="11.1" text-anchor="middle" font-weight="normal" font-style="normal" fill="#000" >brite markers</text>
<line x1="384.40" y1="548.10" x2="475.10" y2="548.10" stroke="#000" stroke-width="1.6"/>
<text x="427.70" y="561.60" font-size="11.1" text-anchor="middle" font-weight="normal" font-style="normal" fill="#000" >adipogenesis</text>
<line x1="527.90" y1="548.10" x2="649.80" y2="548.10" stroke="#000" stroke-width="1.6"/>
<text x="594.40" y="561.60" font-size="11.1" text-anchor="middle" font-weight="normal" font-style="normal" fill="#000" >FGF signaling</text>
<rect x="566.5" y="312.1" width="94.6" height="32.4" fill="none" stroke="#333" stroke-width="1.1"/>
<circle cx="571.8" cy="320.1" r="1.6" fill="#fff" stroke="#333" stroke-width="0.9"/>
<circle cx="571.8" cy="336.4" r="1.6" fill="#888" stroke="#333" stroke-width="0.9"/>
<text x="589.10" y="322.90" font-size="11.0" text-anchor="start" font-weight="normal" font-style="normal" fill="#222" >Rosi</text>
<text x="589.10" y="340.60" font-size="11.0" text-anchor="start" font-weight="normal" font-style="normal" fill="#222" >Rosi + FGF8b</text>
<circle cx="71.1" cy="341.1" r="1.75" fill="#fff" stroke="#000" stroke-width="1.0"/>
<circle cx="72.3" cy="343.8" r="1.75" fill="#fff" stroke="#000" stroke-width="1.0"/>
<circle cx="71.5" cy="342.3" r="1.75" fill="#fff" stroke="#000" stroke-width="1.0"/>
<circle cx="95.0" cy="326.8" r="1.75" fill="#fff" stroke="#000" stroke-width="1.0"/>
<circle cx="95.8" cy="328.0" r="1.75" fill="#fff" stroke="#000" stroke-width="1.0"/>
<circle cx="119.3" cy="419.4" r="1.75" fill="#fff" stroke="#000" stroke-width="1.0"/>
<circle cx="117.8" cy="445.0" r="1.75" fill="#fff" stroke="#000" stroke-width="1.0"/>
<circle cx="121.7" cy="441.9" r="1.75" fill="#fff" stroke="#000" stroke-width="1.0"/>
<circle cx="143.2" cy="414.9" r="1.75" fill="#fff" stroke="#000" stroke-width="1.0"/>
<circle cx="143.2" cy="423.5" r="1.75" fill="#fff" stroke="#000" stroke-width="1.0"/>
<circle cx="143.2" cy="428.6" r="1.75" fill="#fff" stroke="#000" stroke-width="1.0"/>
<circle cx="166.3" cy="478.1" r="1.75" fill="#fff" stroke="#000" stroke-width="1.0"/>
<circle cx="166.7" cy="481.7" r="1.75" fill="#fff" stroke="#000" stroke-width="1.0"/>
<circle cx="168.3" cy="481.3" r="1.75" fill="#fff" stroke="#000" stroke-width="1.0"/>
<circle cx="214.7" cy="492.6" r="1.75" fill="#fff" stroke="#000" stroke-width="1.0"/>
<circle cx="215.8" cy="494.8" r="1.75" fill="#fff" stroke="#000" stroke-width="1.0"/>
<circle cx="239.2" cy="383.1" r="1.75" fill="#fff" stroke="#000" stroke-width="1.0"/>
<circle cx="239.2" cy="420.8" r="1.75" fill="#fff" stroke="#000" stroke-width="1.0"/>
<circle cx="239.2" cy="433.5" r="1.75" fill="#fff" stroke="#000" stroke-width="1.0"/>
<circle cx="263.3" cy="478.8" r="1.75" fill="#fff" stroke="#000" stroke-width="1.0"/>
<circle cx="263.3" cy="483.4" r="1.75" fill="#fff" stroke="#000" stroke-width="1.0"/>
<circle cx="286.5" cy="486.0" r="1.75" fill="#fff" stroke="#000" stroke-width="1.0"/>
<circle cx="288.1" cy="487.8" r="1.75" fill="#fff" stroke="#000" stroke-width="1.0"/>
<circle cx="310.0" cy="490.9" r="1.75" fill="#fff" stroke="#000" stroke-width="1.0"/>
<circle cx="311.1" cy="493.3" r="1.75" fill="#fff" stroke="#000" stroke-width="1.0"/>
<circle cx="334.7" cy="473.4" r="1.75" fill="#fff" stroke="#000" stroke-width="1.0"/>
<circle cx="337.3" cy="476.9" r="1.75" fill="#fff" stroke="#000" stroke-width="1.0"/>
<circle cx="333.4" cy="480.1" r="1.75" fill="#fff" stroke="#000" stroke-width="1.0"/>
<circle cx="381.5" cy="465.6" r="1.75" fill="#fff" stroke="#000" stroke-width="1.0"/>
<circle cx="383.3" cy="468.6" r="1.75" fill="#fff" stroke="#000" stroke-width="1.0"/>
<circle cx="406.4" cy="342.6" r="1.75" fill="#fff" stroke="#000" stroke-width="1.0"/>
<circle cx="407.2" cy="343.4" r="1.75" fill="#fff" stroke="#000" stroke-width="1.0"/>
<circle cx="429.9" cy="382.2" r="1.75" fill="#fff" stroke="#000" stroke-width="1.0"/>
<circle cx="431.7" cy="385.0" r="1.75" fill="#fff" stroke="#000" stroke-width="1.0"/>
<circle cx="454.1" cy="480.8" r="1.75" fill="#fff" stroke="#000" stroke-width="1.0"/>
<circle cx="455.2" cy="483.6" r="1.75" fill="#fff" stroke="#000" stroke-width="1.0"/>
<circle cx="478.2" cy="497.0" r="1.75" fill="#fff" stroke="#000" stroke-width="1.0"/>
<circle cx="479.0" cy="497.5" r="1.75" fill="#fff" stroke="#000" stroke-width="1.0"/>
<circle cx="526.1" cy="490.2" r="1.75" fill="#fff" stroke="#000" stroke-width="1.0"/>
<circle cx="527.3" cy="490.7" r="1.75" fill="#fff" stroke="#000" stroke-width="1.0"/>
<circle cx="549.6" cy="465.4" r="1.75" fill="#fff" stroke="#000" stroke-width="1.0"/>
<circle cx="550.9" cy="469.1" r="1.75" fill="#fff" stroke="#000" stroke-width="1.0"/>
<circle cx="574.0" cy="490.2" r="1.75" fill="#fff" stroke="#000" stroke-width="1.0"/>
<circle cx="575.0" cy="491.4" r="1.75" fill="#fff" stroke="#000" stroke-width="1.0"/>
<circle cx="622.1" cy="364.4" r="1.75" fill="#fff" stroke="#000" stroke-width="1.0"/>
<circle cx="620.9" cy="370.4" r="1.75" fill="#fff" stroke="#000" stroke-width="1.0"/>
<circle cx="624.8" cy="368.1" r="1.75" fill="#fff" stroke="#000" stroke-width="1.0"/>
<circle cx="646.4" cy="441.1" r="1.75" fill="#fff" stroke="#000" stroke-width="1.0"/>
<circle cx="644.7" cy="448.8" r="1.75" fill="#fff" stroke="#000" stroke-width="1.0"/>
<circle cx="648.9" cy="447.5" r="1.75" fill="#fff" stroke="#000" stroke-width="1.0"/>
<circle cx="78.1" cy="308.8" r="1.75" fill="#6e6e6e" stroke="#000" stroke-width="1.0"/>
<circle cx="82.2" cy="310.2" r="1.75" fill="#6e6e6e" stroke="#000" stroke-width="1.0"/>
<circle cx="80.4" cy="317.2" r="1.75" fill="#6e6e6e" stroke="#000" stroke-width="1.0"/>
<circle cx="103.8" cy="335.3" r="1.75" fill="#6e6e6e" stroke="#000" stroke-width="1.0"/>
<circle cx="104.4" cy="337.6" r="1.75" fill="#6e6e6e" stroke="#000" stroke-width="1.0"/>
<circle cx="104.4" cy="339.4" r="1.75" fill="#6e6e6e" stroke="#000" stroke-width="1.0"/>
<circle cx="127.4" cy="480.7" r="1.75" fill="#6e6e6e" stroke="#000" stroke-width="1.0"/>
<circle cx="129.5" cy="481.7" r="1.75" fill="#6e6e6e" stroke="#000" stroke-width="1.0"/>
<circle cx="128.5" cy="484.2" r="1.75" fill="#6e6e6e" stroke="#000" stroke-width="1.0"/>
<circle cx="151.4" cy="449.5" r="1.75" fill="#6e6e6e" stroke="#000" stroke-width="1.0"/>
<circle cx="153.0" cy="450.7" r="1.75" fill="#6e6e6e" stroke="#000" stroke-width="1.0"/>
<circle cx="152.4" cy="453.1" r="1.75" fill="#6e6e6e" stroke="#000" stroke-width="1.0"/>
<circle cx="175.5" cy="486.9" r="1.75" fill="#6e6e6e" stroke="#000" stroke-width="1.0"/>
<circle cx="176.9" cy="488.3" r="1.75" fill="#6e6e6e" stroke="#000" stroke-width="1.0"/>
<circle cx="176.2" cy="488.8" r="1.75" fill="#6e6e6e" stroke="#000" stroke-width="1.0"/>
<circle cx="222.4" cy="483.9" r="1.75" fill="#6e6e6e" stroke="#000" stroke-width="1.0"/>
<circle cx="224.6" cy="478.8" r="1.75" fill="#6e6e6e" stroke="#000" stroke-width="1.0"/>
<circle cx="226.7" cy="480.6" r="1.75" fill="#6e6e6e" stroke="#000" stroke-width="1.0"/>
<circle cx="248.0" cy="379.9" r="1.75" fill="#6e6e6e" stroke="#000" stroke-width="1.0"/>
<circle cx="246.5" cy="385.3" r="1.75" fill="#6e6e6e" stroke="#000" stroke-width="1.0"/>
<circle cx="250.8" cy="385.3" r="1.75" fill="#6e6e6e" stroke="#000" stroke-width="1.0"/>
<circle cx="269.9" cy="430.9" r="1.75" fill="#6e6e6e" stroke="#000" stroke-width="1.0"/>
<circle cx="273.8" cy="432.6" r="1.75" fill="#6e6e6e" stroke="#000" stroke-width="1.0"/>
<circle cx="272.1" cy="441.4" r="1.75" fill="#6e6e6e" stroke="#000" stroke-width="1.0"/>
<circle cx="295.7" cy="483.9" r="1.75" fill="#6e6e6e" stroke="#000" stroke-width="1.0"/>
<circle cx="297.0" cy="483.9" r="1.75" fill="#6e6e6e" stroke="#000" stroke-width="1.0"/>
<circle cx="318.7" cy="488.2" r="1.75" fill="#6e6e6e" stroke="#000" stroke-width="1.0"/>
<circle cx="320.2" cy="489.3" r="1.75" fill="#6e6e6e" stroke="#000" stroke-width="1.0"/>
<circle cx="343.9" cy="478.0" r="1.75" fill="#6e6e6e" stroke="#000" stroke-width="1.0"/>
<circle cx="342.1" cy="483.9" r="1.75" fill="#6e6e6e" stroke="#000" stroke-width="1.0"/>
<circle cx="391.8" cy="480.1" r="1.75" fill="#6e6e6e" stroke="#000" stroke-width="1.0"/>
<circle cx="392.5" cy="481.2" r="1.75" fill="#6e6e6e" stroke="#000" stroke-width="1.0"/>
<circle cx="414.9" cy="364.3" r="1.75" fill="#6e6e6e" stroke="#000" stroke-width="1.0"/>
<circle cx="416.5" cy="365.9" r="1.75" fill="#6e6e6e" stroke="#000" stroke-width="1.0"/>
<circle cx="415.6" cy="369.0" r="1.75" fill="#6e6e6e" stroke="#000" stroke-width="1.0"/>
<circle cx="437.2" cy="412.2" r="1.75" fill="#6e6e6e" stroke="#000" stroke-width="1.0"/>
<circle cx="441.4" cy="413.8" r="1.75" fill="#6e6e6e" stroke="#000" stroke-width="1.0"/>
<circle cx="439.5" cy="428.3" r="1.75" fill="#6e6e6e" stroke="#000" stroke-width="1.0"/>
<circle cx="463.3" cy="487.0" r="1.75" fill="#6e6e6e" stroke="#000" stroke-width="1.0"/>
<circle cx="464.0" cy="488.9" r="1.75" fill="#6e6e6e" stroke="#000" stroke-width="1.0"/>
<circle cx="487.5" cy="482.4" r="1.75" fill="#6e6e6e" stroke="#000" stroke-width="1.0"/>
<circle cx="485.6" cy="488.2" r="1.75" fill="#6e6e6e" stroke="#000" stroke-width="1.0"/>
<circle cx="489.3" cy="486.4" r="1.75" fill="#6e6e6e" stroke="#000" stroke-width="1.0"/>
<circle cx="535.2" cy="487.8" r="1.75" fill="#6e6e6e" stroke="#000" stroke-width="1.0"/>
<circle cx="536.2" cy="488.3" r="1.75" fill="#6e6e6e" stroke="#000" stroke-width="1.0"/>
<circle cx="559.1" cy="480.3" r="1.75" fill="#6e6e6e" stroke="#000" stroke-width="1.0"/>
<circle cx="560.0" cy="481.6" r="1.75" fill="#6e6e6e" stroke="#000" stroke-width="1.0"/>
<circle cx="583.1" cy="492.7" r="1.75" fill="#6e6e6e" stroke="#000" stroke-width="1.0"/>
<circle cx="584.0" cy="493.5" r="1.75" fill="#6e6e6e" stroke="#000" stroke-width="1.0"/>
<circle cx="630.3" cy="384.3" r="1.75" fill="#6e6e6e" stroke="#000" stroke-width="1.0"/>
<circle cx="631.5" cy="386.7" r="1.75" fill="#6e6e6e" stroke="#000" stroke-width="1.0"/>
<circle cx="655.1" cy="443.6" r="1.75" fill="#6e6e6e" stroke="#000" stroke-width="1.0"/>
<circle cx="653.9" cy="465.4" r="1.75" fill="#6e6e6e" stroke="#000" stroke-width="1.0"/>
<circle cx="657.6" cy="463.4" r="1.75" fill="#6e6e6e" stroke="#000" stroke-width="1.0"/>
<defs><filter id="bl" x="-20%" y="-50%" width="140%" height="200%"><feGaussianBlur stdDeviation="0.9"/></filter><linearGradient id="actbg" x1="0" y1="0" x2="0" y2="1"><stop offset="0" stop-color="#c4c4c4"/><stop offset="1" stop-color="#d2d2d2"/></linearGradient><filter id="bl3" x="-20%" y="-50%" width="140%" height="200%"><feGaussianBlur stdDeviation="1.25"/></filter><filter id="bl2" x="-20%" y="-50%" width="140%" height="200%"><feGaussianBlur stdDeviation="2.0"/></filter></defs>
<path d="M22.1,605.4 C20.7,604.0 18.7,603.3 16.5,603.3 C12.6,603.3 10.1,606.9 10.1,612.0 C10.1,617.2 12.6,620.4 16.6,620.4 C18.8,620.4 20.9,619.6 22.3,618.3" fill="none" stroke="#000" stroke-width="2.25" stroke-linecap="butt"/>
<text x="93.10" y="618.40" font-size="15.3" text-anchor="start" font-weight="bold" font-style="normal" fill="#000" textLength="24" lengthAdjust="spacingAndGlyphs" stroke="#000" stroke-width="0.3">Ctrl</text>
<text x="139.30" y="618.40" font-size="15.3" text-anchor="start" font-weight="bold" font-style="normal" fill="#000" textLength="23.3" lengthAdjust="spacingAndGlyphs" stroke="#000" stroke-width="0.3">F8b</text>
<text x="182.20" y="618.40" font-size="15.3" text-anchor="start" font-weight="bold" font-style="normal" fill="#000" textLength="23.5" lengthAdjust="spacingAndGlyphs" stroke="#000" stroke-width="0.3">Ctrl</text>
<text x="224.50" y="618.40" font-size="15.3" text-anchor="start" font-weight="bold" font-style="normal" fill="#000" textLength="24" lengthAdjust="spacingAndGlyphs" stroke="#000" stroke-width="0.3">F8b</text>
<text x="264.00" y="618.40" font-size="15.3" text-anchor="start" font-weight="bold" font-style="normal" fill="#000" textLength="23.4" lengthAdjust="spacingAndGlyphs" stroke="#000" stroke-width="0.3">Ctrl</text>
<text x="306.40" y="618.40" font-size="15.3" text-anchor="start" font-weight="bold" font-style="normal" fill="#000" textLength="23.3" lengthAdjust="spacingAndGlyphs" stroke="#000" stroke-width="0.3">F8b</text>
<text x="349.30" y="618.40" font-size="15.3" text-anchor="start" font-weight="bold" font-style="normal" fill="#000" textLength="23.3" lengthAdjust="spacingAndGlyphs" stroke="#000" stroke-width="0.3">Ctrl</text>
<text x="392.20" y="618.40" font-size="15.3" text-anchor="start" font-weight="bold" font-style="normal" fill="#000" textLength="22.8" lengthAdjust="spacingAndGlyphs" stroke="#000" stroke-width="0.3">F8b</text>
<text x="41.70" y="650.10" font-size="20.4" text-anchor="start" font-weight="bold" font-style="normal" fill="#000" textLength="34.2" lengthAdjust="spacingAndGlyphs" stroke="#000" stroke-width="0.5">HSL</text>
<text x="34.00" y="691.00" font-size="20.4" text-anchor="start" font-weight="bold" font-style="normal" fill="#000" textLength="41.9" lengthAdjust="spacingAndGlyphs" stroke="#000" stroke-width="0.5">PLIN</text>
<text x="25.30" y="732.00" font-size="20.4" text-anchor="start" font-weight="bold" font-style="normal" fill="#000" textLength="50.6" lengthAdjust="spacingAndGlyphs" stroke="#000" stroke-width="0.5">COX4</text>
<text x="26.30" y="773.10" font-size="20.4" text-anchor="start" font-weight="bold" font-style="normal" fill="#000" textLength="49.6" lengthAdjust="spacingAndGlyphs" stroke="#000" stroke-width="0.5">ACTB</text>
<rect x="87.3" y="625.1" width="344.3" height="31.2" fill="#dedede" stroke="#1a1a1a" stroke-width="1.4"/>
<rect x="87.3" y="667.6" width="344.3" height="28.7" fill="#dedede" stroke="#1a1a1a" stroke-width="1.4"/>
<rect x="87.3" y="710.0" width="344.3" height="28.2" fill="#dedede" stroke="#1a1a1a" stroke-width="1.4"/>
<rect x="87.3" y="751.5" width="344.3" height="28.5" fill="url(#actbg)" stroke="#1a1a1a" stroke-width="1.4"/>
<path d="M94.4,637.0 Q109.6,636.5 124.8,637.2 L124.8,644.8 Q109.6,639.2 94.4,643.3 Z" fill="#9a9a9a" opacity="1" filter="url(#bl)"/>
<path d="M122.5,641 L125.8,635.0 L127.2,635.4 L125.5,645 Z" fill="#666" filter="url(#bl)"/>
<path d="M222.8,641.0 Q236.4,634.9 250.0,641.3 L250.0,642.8 Q236.4,636.6 222.8,642.4 Z" fill="#a5a5a5" opacity="0.9" filter="url(#bl)"/>
<path d="M307.3,641.2 Q319.4,637.0 331.5,642.0 L331.5,643.4 Q319.4,638.6 307.3,642.6 Z" fill="#b8b8b8" opacity="0.9" filter="url(#bl)"/>
<path d="M179.8,635.6 Q194.0,631.4 208.2,635.2 L208.2,639.8 Q194.0,635.6 179.8,639.5 Z" fill="#8c8c8c" opacity="1" filter="url(#bl)"/>
<path d="M180.2,638.8 Q194.2,636.6 208.2,639.2 L208.2,645.4 Q194.2,639.7 180.2,644.0 Z" fill="#000" opacity="1" filter="url(#bl)"/>
<path d="M263.2,635.2 Q278.7,631.2 294.2,636.0 L294.2,639.8 Q278.7,635.0 263.2,639.0 Z" fill="#8c8c8c" opacity="1" filter="url(#bl)"/>
<path d="M263.4,638.0 Q278.8,636.9 294.2,638.6 L294.2,644.2 Q278.8,640.0 263.4,643.8 Z" fill="#000" opacity="1" filter="url(#bl)"/>
<circle cx="287.2" cy="638.6" r="1.5" fill="#eee" filter="url(#bl)"/>
<path d="M345.6,648.0 L345.3,634.5 L347.8,636.2 Q361.8,634.4 375.8,636.6 L378.3,634.5 L378.0,647.6 L378.0,648.6 Q361.8,644.0 345.6,649.0 Z" fill="#050505" opacity="1" filter="url(#bl)"/>
<path d="M348.0,634.6 Q362.0,633.1 376.0,635.2 L376.0,638.2 Q362.0,636.3 348.0,638.0 Z" fill="#555" opacity="1" filter="url(#bl)"/>
<path d="M94.4,686.6 Q110.2,685.7 126.0,685.2 L126.0,692.6 Q110.2,690.8 94.4,692.2 Z" fill="#000" opacity="1" filter="url(#bl)"/>
<path d="M124.3,688.5 L128.2,680.0 L130.2,680.2 L127.0,690.5 Z" fill="#222" filter="url(#bl)"/>
<path d="M176.8,688 C176.2,685 177,683 178.5,682.2 C180,683.2 181.5,683.8 184,683.6 C192,683 200,683 206.5,683.2 C208,682.8 209.5,682 210.5,682.4 C211.4,685 211,689 209.5,690.6 C204,691.5 196,690.4 188,690.6 C183,690.8 179.5,692 178,691 C177,690.3 176.9,689.5 176.8,688 Z" fill="#000" filter="url(#bl)"/>
<path d="M263.5,686 C262.5,680 263,675.5 265,673.6 C266.5,675.5 267.5,677 270,677.6 C277,677 285,677.3 291.5,677.4 C293.8,676.8 295.4,675 297,673.4 C299.2,676 299.4,682 298.6,686 C297,689 292,688.2 285,687.8 C278,687.5 272,689.6 267,689.3 C264.6,689 263.8,688 263.5,686 Z" fill="#000" filter="url(#bl)"/>
<path d="M347.8,688 C346.8,682 347,676 348.5,672.6 C350,675.5 351.2,677.5 353.5,678.3 C362,678 371,678.6 378.5,678 C380.3,677.2 381.5,676 382.6,674.8 C384.4,678 384.4,684 383.6,686.5 C382,688.6 376,688.2 368,689 C360,689.8 354,691.4 350.6,691 C348.6,690.6 348,689.5 347.8,688 Z" fill="#000" filter="url(#bl)"/>
<path d="M89.4,720.0 Q112.7,719.4 136.0,720.4 L136.0,726.4 Q112.7,726.6 89.4,726.0 Z" fill="#050505" opacity="1" filter="url(#bl)"/>
<path d="M137.6,721.2 Q147.8,720.6 158.0,721.6 L158.0,726.0 Q147.8,726.1 137.6,725.8 Z" fill="#444" opacity="1" filter="url(#bl)"/>
<path d="M157.0,721.6 Q166.2,720.8 175.5,721.6 L175.5,726.2 Q166.2,726.7 157.0,726.0 Z" fill="#080808" opacity="1" filter="url(#bl)"/>
<path d="M178.8,721.0 Q198.5,721.4 218.2,721.0 L218.2,727.0 Q198.5,727.8 178.8,727.0 Z" fill="#000" opacity="1" filter="url(#bl)"/>
<path d="M180.0,726.0 Q198.0,730.0 216.0,726.0 L216.0,731.0 Q198.0,736.5 180.0,732.0 Z" fill="#8a8a8a" opacity="0.55" filter="url(#bl2)"/>
<path d="M221.8,721.8 Q239.7,722.2 257.6,721.8 L257.6,726.6 Q239.7,727.0 221.8,726.6 Z" fill="#000" opacity="1" filter="url(#bl)"/>
<path d="M261.6,720.8 Q281.6,721.3 301.7,720.6 L301.7,726.8 Q281.6,727.5 261.6,727.0 Z" fill="#000" opacity="1" filter="url(#bl)"/>
<path d="M263.0,726.0 Q281.5,730.0 300.0,726.0 L300.0,730.0 Q281.5,735.5 263.0,731.0 Z" fill="#999" opacity="0.5" filter="url(#bl2)"/>
<path d="M305.4,718.6 Q321.1,717.2 336.8,719.8 L336.8,723.8 Q321.1,724.8 305.4,724.2 Z" fill="#050505" opacity="1" filter="url(#bl)"/>
<path d="M341.6,720.2 Q362.0,719.8 382.4,720.2 L382.4,726.2 Q362.0,727.0 341.6,726.2 Z" fill="#000" opacity="1" filter="url(#bl)"/>
<path d="M343.0,725.0 Q361.5,729.0 380.0,725.0 L380.0,729.0 Q361.5,734.5 343.0,730.0 Z" fill="#999" opacity="0.5" filter="url(#bl2)"/>
<path d="M384.6,720.6 Q406.5,720.1 428.4,720.8 L428.4,725.4 Q406.5,727.2 384.6,725.8 Z" fill="#050505" opacity="1" filter="url(#bl)"/>
<path d="M89.6,776.7 L89.3,759.1 L91.8,765.3 Q109.2,766.5 126.6,765.3 L129.1,762.4 L128.8,776.2 L128.8,777.2 Q109.2,779.2 89.6,777.7 Z" fill="#000" opacity="1" filter="url(#bl3)"/>
<path d="M135.2,772.0 L134.9,762.9 L137.4,763.9 Q150.1,766.6 162.7,768.1 L164.9,774.3 Q150.1,773.0 135.2,773.0 Z" fill="#000" opacity="1" filter="url(#bl3)"/>
<path d="M174.2,772.7 L173.9,763.1 L176.4,764.4 Q192.0,767.7 207.6,768.3 L209.8,779.3 Q192.0,777.5 174.2,773.7 Z" fill="#000" opacity="1" filter="url(#bl3)"/>
<path d="M219.5,776.0 L219.2,763.3 L221.7,765.7 Q236.7,769.4 251.6,766.3 L254.1,761.9 L253.8,776.0 L253.8,777.0 Q236.7,778.2 219.5,777.0 Z" fill="#000" opacity="1" filter="url(#bl3)"/>
<path d="M262.5,767.0 Q279.9,769.7 297.4,764.4 L297.7,761.3 L297.4,776.0 L297.4,777.0 Q279.9,775.6 262.5,777.0 Z" fill="#000" opacity="1" filter="url(#bl3)"/>
<path d="M305.2,765.7 Q322.4,765.3 339.5,763.7 L339.8,762.3 L339.5,775.3 L339.5,776.3 Q322.4,777.3 305.2,777.0 Z" fill="#000" opacity="1" filter="url(#bl3)"/>
<path d="M348.1,767.0 Q366.2,763.7 384.4,768.3 L384.4,777.6 Q366.2,775.0 348.1,777.6 Z" fill="#000" opacity="1" filter="url(#bl3)"/>
<path d="M392.2,767.0 Q409.6,764.1 427.1,762.4 L427.4,759.8 L427.1,774.6 L427.1,775.6 Q409.6,775.9 392.2,776.3 Z" fill="#000" opacity="1" filter="url(#bl3)"/>
<ellipse cx="290" cy="763.5" rx="4" ry="3" fill="#999" opacity="0.6" filter="url(#bl2)"/>
<ellipse cx="418" cy="763.5" rx="5" ry="3" fill="#999" opacity="0.6" filter="url(#bl2)"/>
<path d="M473.9,605.0 L478.6,605.0 C483.2,605.0 485.6,608.3 485.6,613.0 C485.6,617.8 483.2,621.1 478.6,621.1 L473.9,621.1 Z" fill="none" stroke="#000" stroke-width="2.3"/>
<line x1="547.90" y1="617.50" x2="547.90" y2="760.50" stroke="#000" stroke-width="1.4"/>
<line x1="543.90" y1="619.50" x2="547.90" y2="619.50" stroke="#000" stroke-width="1.4"/>
<text x="543.80" y="623.20" font-size="10.4" text-anchor="end" font-weight="bold" font-style="normal" fill="#000" >1.5</text>
<line x1="543.90" y1="666.50" x2="547.90" y2="666.50" stroke="#000" stroke-width="1.4"/>
<text x="543.80" y="670.20" font-size="10.4" text-anchor="end" font-weight="bold" font-style="normal" fill="#000" >1.0</text>
<line x1="543.90" y1="713.50" x2="547.90" y2="713.50" stroke="#000" stroke-width="1.4"/>
<text x="543.80" y="717.20" font-size="10.4" text-anchor="end" font-weight="bold" font-style="normal" fill="#000" >0.5</text>
<line x1="543.90" y1="760.50" x2="547.90" y2="760.50" stroke="#000" stroke-width="1.4"/>
<text x="543.80" y="764.20" font-size="10.4" text-anchor="end" font-weight="bold" font-style="normal" fill="#000" >0.0</text>
<line x1="547.90" y1="760.50" x2="681.50" y2="760.50" stroke="#000" stroke-width="1.4"/>
<line x1="571.00" y1="760.50" x2="571.00" y2="764.50" stroke="#000" stroke-width="1.4"/>
<line x1="615.00" y1="760.50" x2="615.00" y2="764.50" stroke="#000" stroke-width="1.4"/>
<line x1="658.80" y1="760.50" x2="658.80" y2="764.50" stroke="#000" stroke-width="1.4"/>
<text x="571.00" y="776.20" font-size="10.6" text-anchor="middle" font-weight="bold" font-style="normal" fill="#000" >HSL</text>
<text x="615.00" y="776.20" font-size="10.6" text-anchor="middle" font-weight="bold" font-style="normal" fill="#000" >PLIN</text>
<text x="658.80" y="776.20" font-size="10.6" text-anchor="middle" font-weight="bold" font-style="normal" fill="#000" >COX4</text>
<text x="0" y="0" font-size="11.5" font-weight="bold" text-anchor="middle" transform="translate(507.2 689.3) rotate(-90)">normalized protein amount</text>
<text x="0" y="0" font-size="11.5" font-weight="bold" text-anchor="middle" transform="translate(522.0 689.0) rotate(-90)">(-fold control)</text>
<line x1="563.30" y1="666.50" x2="563.30" y2="650.05" stroke="#000" stroke-width="1.4"/>
<line x1="559.80" y1="650.05" x2="566.80" y2="650.05" stroke="#000" stroke-width="1.4"/>
<rect x="555.7" y="666.5" width="15.3" height="94.0" fill="#fff" stroke="#000" stroke-width="1.4"/>
<line x1="578.30" y1="737.00" x2="578.30" y2="731.83" stroke="#000" stroke-width="1.4"/>
<line x1="574.80" y1="731.83" x2="581.80" y2="731.83" stroke="#000" stroke-width="1.4"/>
<rect x="571" y="737.0" width="14.6" height="23.5" fill="#000" stroke="#000" stroke-width="1.4"/>
<line x1="607.60" y1="666.50" x2="607.60" y2="646.76" stroke="#000" stroke-width="1.4"/>
<line x1="604.10" y1="646.76" x2="611.10" y2="646.76" stroke="#000" stroke-width="1.4"/>
<rect x="600.2" y="666.5" width="14.8" height="94.0" fill="#fff" stroke="#000" stroke-width="1.4"/>
<rect x="615" y="750.6" width="14.9" height="9.9" fill="#000" stroke="#000" stroke-width="1.4"/>
<line x1="651.40" y1="666.50" x2="651.40" y2="659.92" stroke="#000" stroke-width="1.4"/>
<line x1="647.90" y1="659.92" x2="654.90" y2="659.92" stroke="#000" stroke-width="1.4"/>
<rect x="643.9" y="666.5" width="14.9" height="94.0" fill="#fff" stroke="#000" stroke-width="1.4"/>
<line x1="666.50" y1="697.05" x2="666.50" y2="689.53" stroke="#000" stroke-width="1.4"/>
<line x1="663.00" y1="689.53" x2="670.00" y2="689.53" stroke="#000" stroke-width="1.4"/>
<rect x="658.8" y="697.0" width="15.3" height="63.5" fill="#000" stroke="#000" stroke-width="1.4"/>
<line x1="564.10" y1="640.30" x2="578.00" y2="640.30" stroke="#000" stroke-width="1.9"/>
<text x="571.35" y="642.00" font-size="12.5" text-anchor="middle" font-weight="normal" font-style="normal" fill="#222" >*</text>
<line x1="607.40" y1="640.30" x2="621.30" y2="640.30" stroke="#000" stroke-width="1.9"/>
<text x="614.65" y="642.00" font-size="12.5" text-anchor="middle" font-weight="normal" font-style="normal" fill="#222" >*</text>
<line x1="654.90" y1="640.30" x2="668.80" y2="640.30" stroke="#000" stroke-width="1.9"/>
<text x="662.15" y="642.00" font-size="12.5" text-anchor="middle" font-weight="normal" font-style="normal" fill="#222" >*</text>
<rect x="557.4" y="617.0" width="14.8" height="7.3" fill="#fff" stroke="#000" stroke-width="1.2"/>
<text x="581.30" y="624.10" font-size="11.8" text-anchor="start" font-weight="normal" font-style="normal" fill="#111" textLength="36.0" lengthAdjust="spacingAndGlyphs">Control</text>
<rect x="624.8" y="616.4" width="16.7" height="7.9" fill="#000"/>
<text x="649.40" y="623.80" font-size="11.9" text-anchor="start" font-weight="normal" font-style="normal" fill="#111" textLength="35.6" lengthAdjust="spacingAndGlyphs">FGF8b</text>
</svg>
</body></html>
